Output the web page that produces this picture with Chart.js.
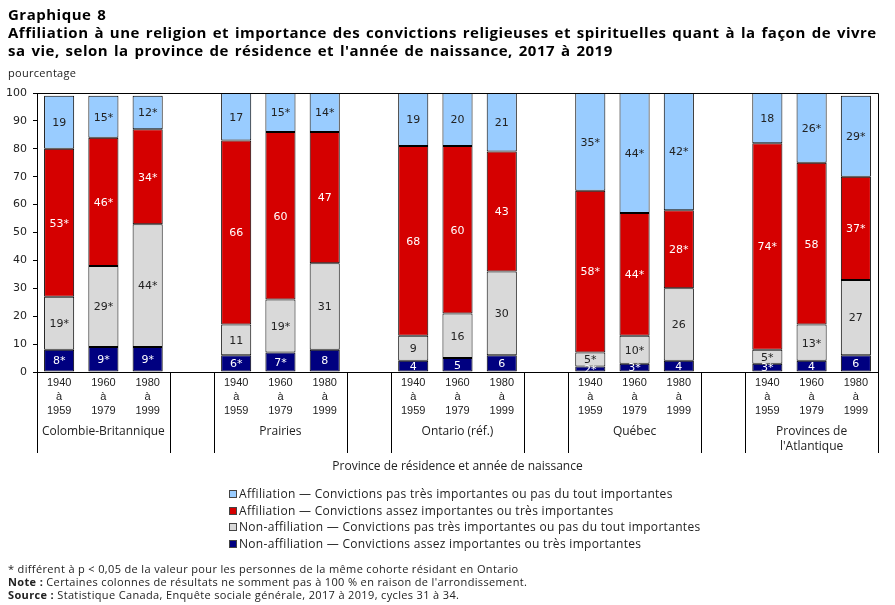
<!DOCTYPE html>
<html lang="fr">
<head>
<meta charset="utf-8">
<script src="https://cdn.jsdelivr.net/npm/chart.js@4/dist/chart.umd.min.js"></script>
<style>
  body { margin: 0; background: #fff; }
  #wrap { position: relative; width: 895px; height: 605px; overflow: hidden; }
  #chart { position: absolute; left: 0; top: 0; }
  .title { position: absolute; left: 8px; top: 5px; font: bold 15px "Open Sans", "Liberation Sans", sans-serif; line-height: 18px; letter-spacing: 0.5px; word-spacing: 1.5px; color: #000; white-space: nowrap; }
  .unit { position: absolute; left: 8px; top: 65px; font: 11px "Open Sans", "Liberation Sans", sans-serif; letter-spacing: 0.3px; color: #222; }
  #legend { position: absolute; left: 229px; top: 486px; font: 12px "Open Sans", "Liberation Sans", sans-serif; letter-spacing: 0.3px; color: #222; }
  #legend div { height: 16.7px; line-height: 16.7px; white-space: nowrap; }
  #legend span.box { display: inline-block; width: 6px; height: 6px; border: 1px solid #444; margin-right: 2px; vertical-align: 0px; }
  .notes { position: absolute; left: 8px; top: 562px; font: 11px "Open Sans", "Liberation Sans", sans-serif; line-height: 13px; letter-spacing: 0.35px; color: #222; white-space: nowrap; }
</style>
</head>
<body>
<div id="wrap">
  <canvas id="chart" width="895" height="605"></canvas>
  <div class="title">Graphique 8<br>Affiliation à une religion et importance des convictions religieuses et spirituelles quant à la façon de vivre<br>sa vie, selon la province de résidence et l'année de naissance, 2017 à 2019</div>
  <div class="unit">pourcentage</div>
  <div id="legend"></div>
  <div class="notes">
    * différent à p &lt; 0,05 de la valeur pour les personnes de la même cohorte résidant en Ontario<br>
    <b>Note :</b> Certaines colonnes de résultats ne somment pas à 100 % en raison de l'arrondissement.<br>
    <b>Source :</b> Statistique Canada, Enquête sociale générale, 2017 à 2019, cycles 31 à 34.
  </div>
</div>
<script>
// categories
const provinces = ['Colombie-Britannique', 'Prairies', 'Ontario (réf.)', 'Québec', ['Provinces de', "l'Atlantique"]];
const cohorts = [['1940', 'à', '1959'], ['1960', 'à', '1979'], ['1980', 'à', '1999']];
const yTicks = [0, 10, 20, 30, 40, 50, 60, 70, 80, 90, 100];

// series (per province: 1940-1959, 1960-1979, 1980-1999)
const nonAffAssez = [8, 9, 9,   6, 7, 8,    4, 5, 6,    2, 3, 4,    3, 4, 6];
const nonAffPas   = [19, 29, 44, 11, 19, 31, 9, 16, 30, 5, 10, 26, 5, 13, 27];
const affAssez    = [53, 46, 34, 66, 60, 47, 68, 60, 43, 58, 44, 28, 74, 58, 37];
const affPas      = [19, 15, 12, 17, 15, 14, 19, 20, 21, 35, 44, 42, 18, 26, 29];

// significance (*) flags
const nonAffAssezSig = [1, 1, 1, 1, 1, 0, 0, 0, 0, 1, 1, 0, 1, 0, 0];
const nonAffPasSig   = [1, 1, 1, 0, 1, 0, 0, 0, 0, 1, 1, 0, 1, 1, 0];
const affAssezSig    = [1, 1, 1, 0, 0, 0, 0, 0, 0, 1, 1, 1, 1, 0, 1];
const affPasSig      = [0, 1, 1, 0, 1, 1, 0, 0, 0, 1, 1, 1, 0, 1, 1];

const seriesNames = [
    'Affiliation — Convictions pas très importantes ou pas du tout importantes',
    'Affiliation — Convictions assez importantes ou très importantes',
    'Non-affiliation — Convictions pas très importantes ou pas du tout importantes',
    'Non-affiliation — Convictions assez importantes ou très importantes'
];
const seriesColors = ['#99CCFF', '#D50000', '#D9D9D9', '#000080'];
const labelColors = ['#222', '#fff', '#222', '#fff'];

// 3 bars per province, one empty slot between provinces
const labels = [];
provinces.forEach((p, i) => {
    cohorts.forEach(c => labels.push(c));
    if (i < provinces.length - 1) labels.push('');
});

function spread(arr) {
    const out = [];
    provinces.forEach((p, i) => {
        out.push(...arr.slice(i * 3, i * 3 + 3));
        if (i < provinces.length - 1) out.push(null);
    });
    return out;
}

// drawn bottom to top
const stackOrder = [
    { name: seriesNames[3], data: nonAffAssez, sig: nonAffAssezSig, color: seriesColors[3], text: labelColors[3] },
    { name: seriesNames[2], data: nonAffPas, sig: nonAffPasSig, color: seriesColors[2], text: labelColors[2] },
    { name: seriesNames[1], data: affAssez, sig: affAssezSig, color: seriesColors[1], text: labelColors[1] },
    { name: seriesNames[0], data: affPas, sig: affPasSig, color: seriesColors[0], text: labelColors[0] }
];

const datasets = stackOrder.map(s => ({
    label: s.name,
    data: spread(s.data),
    sig: spread(s.sig),
    textColor: s.text,
    backgroundColor: s.color,
    borderColor: '#000',
    borderWidth: 1,
    borderSkipped: false,
    barPercentage: 0.68,
    categoryPercentage: 1.0
}));

// html legend
document.getElementById('legend').innerHTML = seriesNames.map((n, i) =>
    `<div><span class="box" style="background:${seriesColors[i]}"></span>${n}</div>`).join('');

const decorations = {
    id: 'decorations',
    afterDatasetsDraw(chart) {
        const ctx = chart.ctx;
        const area = chart.chartArea;
        // bar values
        ctx.save();
        ctx.beginPath();
        ctx.rect(area.left, area.top, area.right - area.left, area.bottom - area.top);
        ctx.clip();
        ctx.font = '11px "DejaVu Sans", Verdana, sans-serif';
        ctx.textAlign = 'center';
        ctx.textBaseline = 'middle';
        chart.data.datasets.forEach((ds, di) => {
            const meta = chart.getDatasetMeta(di);
            meta.data.forEach((bar, i) => {
                const v = ds.data[i];
                if (v === null) return;
                const top = Math.max(bar.y, area.top);
                const y = (top + bar.base) / 2;
                ctx.fillStyle = ds.textColor;
                ctx.fillText(v + (ds.sig[i] ? '*' : ''), bar.x, y + 1);
            });
        });
        ctx.restore();
    },
    afterDraw(chart) {
        const ctx = chart.ctx;
        const area = chart.chartArea;
        const x = chart.scales.x;
        const slot = (x.right - x.left) / labels.length;
        ctx.save();
        // plot frame (top and right)
        ctx.strokeStyle = '#000';
        ctx.lineWidth = 1;
        ctx.beginPath();
        ctx.moveTo(Math.round(area.left) + 0.5, Math.round(area.top) + 0.5);
        ctx.lineTo(Math.round(area.right) + 0.5, Math.round(area.top) + 0.5);
        ctx.lineTo(Math.round(area.right) + 0.5, Math.round(area.bottom) + 0.5);
        ctx.stroke();
        // group separators below the axis
        const sepBottom = area.bottom + 81;
        ctx.beginPath();
        provinces.forEach((p, i) => {
            const first = i * 4;
            const l = x.getPixelForValue(first) - slot / 2;
            const r = x.getPixelForValue(first + 2) + slot / 2;
            [l, r].forEach(px => {
                ctx.moveTo(Math.round(px) + 0.5, area.bottom);
                ctx.lineTo(Math.round(px) + 0.5, sepBottom);
            });
        });
        ctx.stroke();
        // province names
        ctx.fillStyle = '#222';
        ctx.font = '12px "Open Sans", "Liberation Sans", sans-serif';
        ctx.textAlign = 'center';
        ctx.textBaseline = 'middle';
        provinces.forEach((p, i) => {
            const cx = x.getPixelForValue(i * 4 + 1);
            const lines = Array.isArray(p) ? p : [p];
            lines.forEach((t, k) => ctx.fillText(t, cx, area.bottom + 60 + k * 15));
        });
        // axis title
        ctx.fillText('Province de résidence et année de naissance', (area.left + area.right) / 2, area.bottom + 95);
        ctx.restore();
    }
};

new Chart(document.getElementById('chart'), {
    type: 'bar',
    data: { labels: labels, datasets: datasets },
    options: {
        responsive: false,
        animation: false,
        layout: { padding: { top: 93, right: 17, bottom: 152, left: 0 } },
        plugins: {
            legend: { display: false },
            tooltip: { enabled: false }
        },
        scales: {
            x: {
                stacked: true,
                grid: { display: false, drawTicks: false },
                border: { color: '#000', width: 1 },
                ticks: {
                    color: '#222',
                    maxRotation: 0,
                    autoSkip: false,
                    padding: 4,
                    font: { family: '"Liberation Sans", Arial, sans-serif', size: 11, lineHeight: 1.27 }
                },
                afterFit(scale) { scale.height = 81; }
            },
            y: {
                stacked: true,
                min: 0,
                max: 100,
                afterBuildTicks(scale) { scale.ticks = yTicks.map(v => ({ value: v })); },
                grid: { display: true, drawOnChartArea: false, drawTicks: true, tickLength: 4, color: '#000' },
                border: { color: '#000', width: 1 },
                ticks: {
                    color: '#222',
                    padding: 6,
                    font: { family: '"DejaVu Sans", Verdana, sans-serif', size: 11 }
                },
                afterFit(scale) { scale.width = 37; }
            }
        }
    },
    plugins: [decorations]
});
</script>
</body>
</html>
